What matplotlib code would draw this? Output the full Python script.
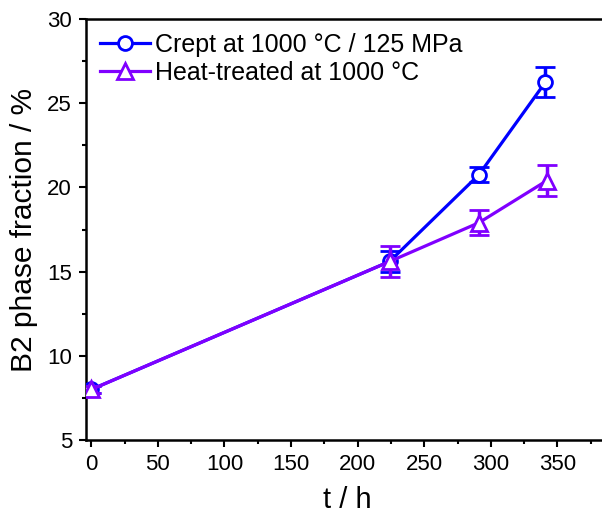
import matplotlib
matplotlib.use("Agg")
import matplotlib.pyplot as plt
from matplotlib.ticker import MultipleLocator

plt.rcParams['font.family'] = ['Liberation Sans', 'DejaVu Sans']

t_crept = [0, 224, 291, 341]
crept = [8.0, 15.6, 20.75, 26.25]
crept_err = [0.2, 0.6, 0.45, 0.9]

t_heat = [0, 224, 291, 342]
heat = [8.0, 15.6, 17.9, 20.4]
heat_err = [0.2, 0.9, 0.75, 0.92]

labels = ["Crept at 1000 °C / 125 MPa", "Heat-treated at 1000 °C"]
blue = "#0000FF"
purple = "#8000FF"

fig = plt.figure(figsize=(6.02, 5.16), dpi=100)
ax = fig.add_axes([86/602, 76/516, 1 - 86/602 + 0.01, (440-19)/516])

ax.errorbar(t_crept, crept, yerr=crept_err, color=blue, marker='o', ms=10,
            mfc='white', mec=blue, mew=2, lw=2.3, capsize=7, capthick=2.5,
            elinewidth=2.5, label=labels[0], zorder=3)
ax.errorbar(t_heat, heat, yerr=heat_err, color=purple, marker='^', ms=11,
            mfc='white', mec=purple, mew=2, lw=2.3, capsize=7, capthick=2.5,
            elinewidth=2.5, label=labels[1], zorder=4)

ax.set_xlim(-4, 388)
ax.set_ylim(5, 30)
ax.xaxis.set_major_locator(MultipleLocator(50))
ax.xaxis.set_minor_locator(MultipleLocator(25))
ax.yaxis.set_major_locator(MultipleLocator(5))
ax.yaxis.set_minor_locator(MultipleLocator(2.5))
ax.tick_params(which='major', direction='out', length=5, width=1.5, labelsize=16)
ax.tick_params(which='minor', direction='out', length=3, width=1.5)
ax.tick_params(axis='x', pad=5)
ax.tick_params(axis='y', pad=5)
for s in ['left', 'bottom', 'top']:
    ax.spines[s].set_linewidth(1.8)
ax.spines['right'].set_visible(False)

ax.set_xlabel("t / h", fontsize=21, labelpad=8)
ax.set_ylabel("B2 phase fraction / %", fontsize=21.5, labelpad=7)

handles, labs = ax.get_legend_handles_labels()
handles = [h[0] for h in handles]
ax.legend(handles, labs, loc='upper left', frameon=False, fontsize=18,
          handlelength=2.0, handletextpad=0.2, borderaxespad=0.15,
          labelspacing=0.15, bbox_to_anchor=(0.0, 1.0))

fig.savefig("out.png", dpi=100)
